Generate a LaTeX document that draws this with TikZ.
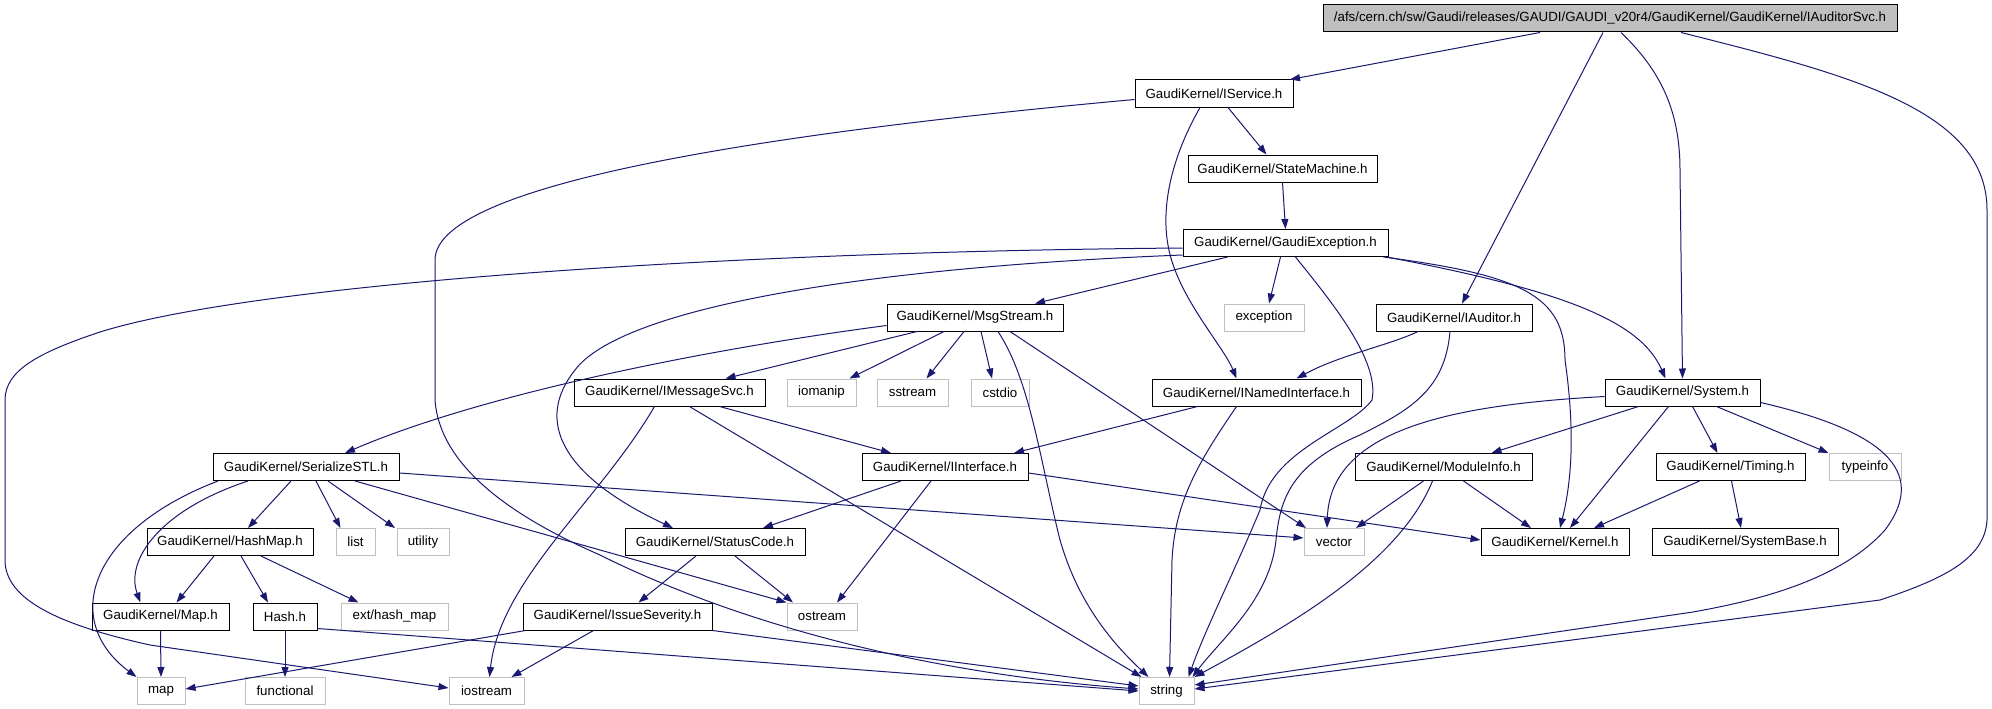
\documentclass[tikz,border=0pt]{standalone}
\usepackage{fontspec}
\setmainfont{Liberation Sans}
\usetikzlibrary{arrows.meta}
\definecolor{edgec}{RGB}{25,25,112}
\definecolor{grayc}{RGB}{191,191,191}
\begin{document}
\begin{tikzpicture}[x=1pt,y=-1pt,
  box/.style={draw=black,line width=1pt,fill=white,minimum height=27pt,inner sep=0pt,font=\fontsize{13.3}{15}\selectfont,text=black},
  sys/.style={box,draw=grayc},
  edge/.style={draw=edgec,line width=1pt,-{Triangle[length=10pt,width=7pt]}}]
\useasboundingbox[fill=white] (0,0) rectangle (1992,709);
% row 0
\node[box,fill=grayc,minimum width=574pt] (root) at (1610,18.5) {/afs/cern.ch/sw/Gaudi/releases/GAUDI/GAUDI\_v20r4/GaudiKernel/GaudiKernel/IAuditorSvc.h};
% row 1
\node[box,minimum width=158pt] (IService) at (1214,93.5) {GaudiKernel/IService.h};
% row 2
\node[box,minimum width=189pt] (StateMachine) at (1282.5,168.5) {GaudiKernel/StateMachine.h};
% row 3
\node[box,minimum width=205pt] (GaudiException) at (1285.5,243) {GaudiKernel/GaudiException.h};
% row 4
\node[box,minimum width=176pt] (MsgStream) at (975,317.5) {GaudiKernel/MsgStream.h};
\node[sys,minimum width=80pt] (exception) at (1264,317.5) {exception};
\node[box,minimum width=156pt] (IAuditor) at (1454,317.5) {GaudiKernel/IAuditor.h};
% row 5
\node[box,minimum width=191pt] (IMessageSvc) at (669.5,392.5) {GaudiKernel/IMessageSvc.h};
\node[sys,minimum width=69pt] (iomanip) at (821.5,392.5) {iomanip};
\node[sys,minimum width=71pt] (sstream) at (912.5,392.5) {sstream};
\node[sys,minimum width=58pt] (cstdio) at (1000,392.5) {cstdio};
\node[box,minimum width=209pt] (INamedInterface) at (1256.5,392.5) {GaudiKernel/INamedInterface.h};
\node[box,minimum width=155pt] (System) at (1682.5,392.5) {GaudiKernel/System.h};
% row 6
\node[box,minimum width=186pt] (SerializeSTL) at (306,467) {GaudiKernel/SerializeSTL.h};
\node[box,minimum width=166pt] (IInterface) at (945,467) {GaudiKernel/IInterface.h};
\node[box,minimum width=177pt] (ModuleInfo) at (1443.5,467) {GaudiKernel/ModuleInfo.h};
\node[box,minimum width=149pt] (Timing) at (1730.5,467) {GaudiKernel/Timing.h};
\node[sys,minimum width=72pt] (typeinfo) at (1865,467) {typeinfo};
% row 7
\node[box,minimum width=166pt] (HashMap) at (230,542) {GaudiKernel/HashMap.h};
\node[sys,minimum width=39pt] (list) at (355.5,542) {list};
\node[sys,minimum width=52pt] (utility) at (423,542) {utility};
\node[box,minimum width=180pt] (StatusCode) at (715,542) {GaudiKernel/StatusCode.h};
\node[sys,minimum width=60pt] (vector) at (1334,542) {vector};
\node[box,minimum width=148pt] (Kernel) at (1555,542) {GaudiKernel/Kernel.h};
\node[box,minimum width=186pt] (SystemBase) at (1745,542) {GaudiKernel/SystemBase.h};
% row 8
\node[box,minimum width=137pt] (Map) at (160.5,616.5) {GaudiKernel/Map.h};
\node[box,minimum width=64pt] (Hash) at (285,616.5) {Hash.h};
\node[sys,minimum width=107pt] (exthashmap) at (394.5,616.5) {ext/hash\_map};
\node[box,minimum width=189pt] (IssueSeverity) at (617.5,616.5) {GaudiKernel/IssueSeverity.h};
\node[sys,minimum width=70pt] (ostream) at (822,616.5) {ostream};
% row 9
\node[sys,minimum width=48pt] (map) at (161,691) {map};
\node[sys,minimum width=80pt] (functional) at (285,691) {functional};
\node[sys,minimum width=75pt] (iostream) at (486.5,691) {iostream};
\node[sys,minimum width=55pt] (string) at (1166.5,691) {string};

% ---- edges: root
\draw[edge] ([xshift=-70pt]root.south) -- ([xshift=76pt]IService.north);
\draw[edge] ([xshift=-7pt]root.south) -- ([xshift=8pt]IAuditor.north);
\draw[edge] ([xshift=11pt]root.south) .. controls (1660,70) and (1680,110) .. (1680,170) -- (System.north);
\draw[edge] ([xshift=71pt]root.south) .. controls (1850,75) and (1987,110) .. (1987,210) -- (1987,520) .. controls (1985,560) and (1940,580) .. (1880,600) -- ([yshift=2pt]string.east);
% IService
\draw[edge] ([xshift=14pt]IService.south) -- ([xshift=-16pt]StateMachine.north);
\draw[edge] ([xshift=-14pt]IService.south) .. controls (1170,160) and (1155,220) .. (1175,270) .. controls (1190,310) and (1225,350) .. ([xshift=-20pt]INamedInterface.north);
\draw[edge] ([yshift=-6pt]IService.west) .. controls (800,130) and (435,180) .. (435,260) -- (435,400) .. controls (440,470) and (520,520) .. (600,555) .. controls (700,605) and (880,670) .. ([yshift=2pt]string.west);
% StateMachine
\draw[edge] (StateMachine.south) -- (GaudiException.north);
% GaudiException
\draw[edge] ([xshift=-5pt]GaudiException.south) -- ([xshift=5pt]exception.north);
\draw[edge] ([xshift=-58pt]GaudiException.south) -- ([xshift=60pt]MsgStream.north);
\draw[edge] ([xshift=10pt]GaudiException.south) .. controls (1330,300) and (1380,360) .. (1372,400) .. controls (1350,430) and (1270,450) .. (1260,510) .. controls (1235,570) and (1205,630) .. ([xshift=22pt]string.north);
\draw[edge] ([xshift=-2pt]GaudiException.south east) .. controls (1560,290) and (1640,320) .. ([xshift=-17pt]System.north);
\draw[edge] ([xshift=-5pt]GaudiException.south east) .. controls (1520,275) and (1565,295) .. (1565,360) .. controls (1575,430) and (1572,480) .. ([xshift=5pt]Kernel.north);
\draw[edge] ([yshift=2pt]GaudiException.south west) .. controls (850,268) and (620,310) .. (575,370) .. controls (535,420) and (560,475) .. ([xshift=-42pt]StatusCode.north);
\draw[edge] ([yshift=-5pt]GaudiException.west) .. controls (700,252) and (250,285) .. (100,332) .. controls (40,352) and (5,370) .. (5,400) -- (5,560) .. controls (5,600) and (60,625) .. (150,645) -- ([yshift=3pt]iostream.west);
% IAuditor
\draw[edge] ([xshift=-36pt]IAuditor.south) .. controls (1390,345) and (1340,355) .. ([xshift=40pt]INamedInterface.north);
\draw[edge] ([xshift=-4pt]IAuditor.south) .. controls (1445,390) and (1410,410) .. (1360,435) .. controls (1290,465) and (1280,500) .. (1276,540) .. controls (1270,600) and (1220,640) .. ([xshift=-2pt]string.north east);
% MsgStream
\draw[edge] ([xshift=-58pt]MsgStream.south) -- ([xshift=56pt]IMessageSvc.north);
\draw[edge] ([xshift=-31pt]MsgStream.south) -- ([xshift=28pt]iomanip.north);
\draw[edge] ([xshift=-11pt]MsgStream.south) -- ([xshift=14pt]sstream.north);
\draw[edge] ([xshift=6pt]MsgStream.south) -- ([xshift=-8pt]cstdio.north);
\draw[edge] ([yshift=-8pt]MsgStream.west) .. controls (700,350) and (480,395) .. ([xshift=39pt]SerializeSTL.north);
\draw[edge] ([xshift=23pt]MsgStream.south) .. controls (1030,380) and (1040,460) .. (1060,540) .. controls (1080,610) and (1120,650) .. ([xshift=-18pt]string.north);
\draw[edge] ([xshift=35pt]MsgStream.south) -- ([xshift=-28pt]vector.north);
% INamedInterface
\draw[edge] ([xshift=-59pt]INamedInterface.south) -- ([xshift=69pt]IInterface.north);
\draw[edge] ([xshift=-20pt]INamedInterface.south) .. controls (1200,460) and (1175,500) .. (1172,560) -- ([xshift=3pt]string.north);
% IMessageSvc
\draw[edge] ([xshift=50pt]IMessageSvc.south) -- ([xshift=-54pt]IInterface.north);
\draw[edge] ([xshift=-15pt]IMessageSvc.south) .. controls (600,500) and (500,580) .. ([xshift=3pt]iostream.north);
\draw[edge] ([xshift=20pt]IMessageSvc.south) -- ([xshift=3pt]string.north west);
% SerializeSTL
\draw[edge] ([xshift=-88pt]SerializeSTL.south) .. controls (90,530) and (60,620) .. (map.north west);
\draw[edge] ([xshift=-58pt]SerializeSTL.south) .. controls (160,510) and (125,560) .. ([xshift=-20pt]Map.north);
\draw[edge] ([xshift=-15pt]SerializeSTL.south) -- ([xshift=18pt]HashMap.north);
\draw[edge] ([xshift=10pt]SerializeSTL.south) -- ([xshift=-15pt]list.north);
\draw[edge] ([xshift=22pt]SerializeSTL.south) -- ([xshift=-28pt]utility.north);
\draw[edge] ([xshift=49pt]SerializeSTL.south) -- (ostream.north west);
\draw[edge] ([yshift=-6pt]SerializeSTL.east) -- ([yshift=4pt]vector.west);
% HashMap
\draw[edge] ([xshift=-16pt]HashMap.south) -- ([xshift=16pt]Map.north);
\draw[edge] ([xshift=11pt]HashMap.south) -- ([xshift=-17pt]Hash.north);
\draw[edge] ([xshift=31pt]HashMap.south) -- ([xshift=-36pt]exthashmap.north);
% Map, Hash
\draw[edge] (Map.south) -- (map.north);
\draw[edge] (Hash.south) -- (functional.north);
\draw[edge] ([yshift=2pt]Hash.south east) -- (string.west);
% IssueSeverity
\draw[edge] ([xshift=3pt]IssueSeverity.south west) -- ([yshift=2pt]map.east);
\draw[edge] ([xshift=-24pt]IssueSeverity.south) -- ([xshift=25pt]iostream.north);
\draw[edge] (IssueSeverity.south east) -- ([yshift=5pt]string.west);
% StatusCode
\draw[edge] ([xshift=-19pt]StatusCode.south) -- ([xshift=21pt]IssueSeverity.north);
\draw[edge] ([xshift=20pt]StatusCode.south) -- ([xshift=-29pt]ostream.north);
% IInterface
\draw[edge] ([xshift=-44pt]IInterface.south) -- ([xshift=48pt]StatusCode.north);
\draw[edge] ([xshift=-14pt]IInterface.south) -- ([xshift=15pt]ostream.north);
\draw[edge] ([yshift=-6pt]IInterface.east) -- ([yshift=2pt]Kernel.west);
% System
\draw[edge] ([yshift=-4pt]System.west) .. controls (1450,405) and (1330,430) .. ([xshift=-7pt]vector.north);
\draw[edge] ([xshift=-44pt]System.south) -- ([xshift=48pt]ModuleInfo.north);
\draw[edge] ([xshift=-14pt]System.south) -- ([xshift=15pt]Kernel.north);
\draw[edge] ([xshift=10pt]System.south) -- ([xshift=-13pt]Timing.north);
\draw[edge] ([xshift=34pt]System.south) -- (typeinfo.north west);
\draw[edge] ([yshift=-10pt]System.east) .. controls (1880,430) and (1930,470) .. (1885,530) .. controls (1840,580) and (1760,600) .. (1693,612) -- ([yshift=6pt]string.east);
% ModuleInfo
\draw[edge] ([xshift=-20pt]ModuleInfo.south) -- ([xshift=22pt]vector.north);
\draw[edge] ([xshift=20pt]ModuleInfo.south) -- ([xshift=-24pt]Kernel.north);
\draw[edge] ([xshift=-11pt]ModuleInfo.south) .. controls (1400,560) and (1300,620) .. (string.north east);
% Timing
\draw[edge] ([xshift=-31pt]Timing.south) -- ([xshift=39pt]Kernel.north);
\draw[edge] ([xshift=1pt]Timing.south) -- ([xshift=-4pt]SystemBase.north);
\end{tikzpicture}
\end{document}
